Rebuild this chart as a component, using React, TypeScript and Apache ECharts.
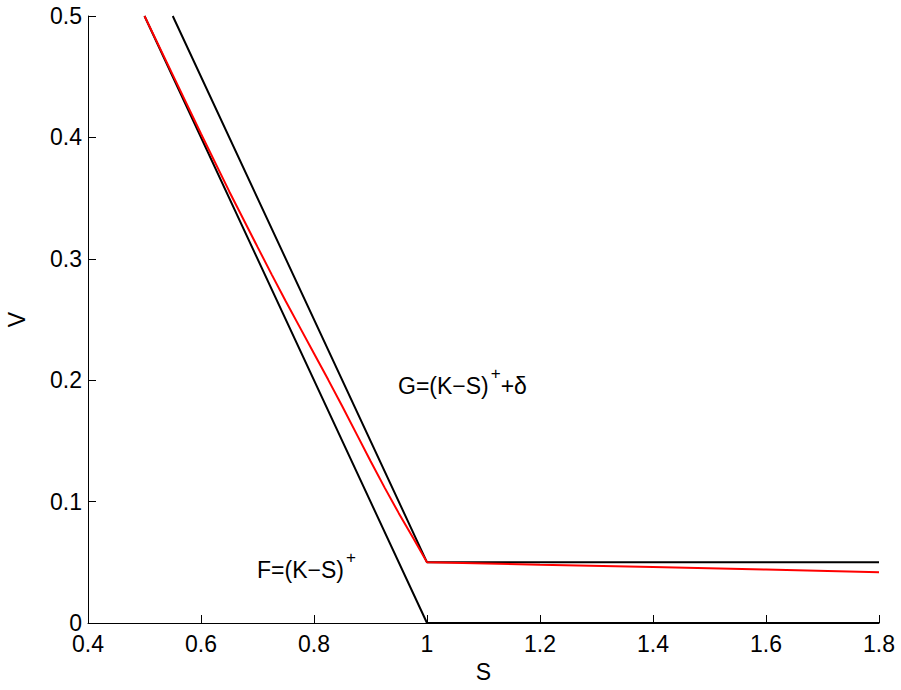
import React, { useEffect, useRef } from "react";
import * as echarts from "echarts";

const fS = [0.5, 1.0, 1.8];
const fV = [0.5, 0.0, 0.0];
const gS = [0.55, 1.0, 1.8];
const gV = [0.5, 0.05, 0.05];
const redS = [0.5, 0.55, 0.6, 0.65, 0.7, 0.725, 0.75, 0.775, 0.8, 0.825, 0.85, 0.875, 0.9, 0.925, 0.95, 0.975, 1.0, 1.2, 1.4, 1.6, 1.8];
const redV = [0.5, 0.4515, 0.403, 0.3555, 0.3098, 0.2872, 0.265, 0.2435, 0.222, 0.2005, 0.1785, 0.156, 0.1335, 0.1115, 0.0905, 0.0705, 0.05, 0.048, 0.0462, 0.044, 0.0418];
const xTicks = [0.4, 0.6, 0.8, 1, 1.2, 1.4, 1.6, 1.8];
const yTicks = [0, 0.1, 0.2, 0.3, 0.4, 0.5];

const FONT = "Liberation Sans, Arial, Helvetica, sans-serif";

const zip = (a: number[], b: number[]) => a.map((v, i) => [v, b[i]]);

export default function App() {
  const ref = useRef<HTMLDivElement>(null);
  useEffect(() => {
    if (!ref.current) return;
    const chart = echarts.init(ref.current, null, { renderer: "svg" });
    const axisCommon = {
      axisLine: { show: true, lineStyle: { color: "#000", width: 1 } },
      axisTick: { show: true, inside: true, length: 8, lineStyle: { color: "#000" } },
      splitLine: { show: false },
      axisLabel: { color: "#000", fontSize: 23, lineHeight: 18, fontFamily: FONT },
      nameTextStyle: { color: "#000", fontSize: 23, fontFamily: FONT },
    };
    const rich = {
      b: { fontSize: 23, fontFamily: FONT, fill: "#000", verticalAlign: "bottom" },
      s: { fontSize: 17, fontFamily: FONT, fill: "#000", padding: [0, 0, 15, 2] },
    };
    chart.setOption({
      animation: false,
      backgroundColor: "#fff",
      grid: { left: 88, right: 22, top: 16, bottom: 67, containLabel: false, outerBoundsMode: "none" },
      xAxis: {
        type: "value",
        min: 0.4,
        max: 1.8,
        interval: 0.2,
        name: "S",
        nameLocation: "middle",
        nameGap: 29,
        ...axisCommon,
        axisLabel: {
          ...axisCommon.axisLabel,
          margin: 12,
          formatter: (v: number) => {
            const t = xTicks.find((x) => Math.abs(x - v) < 1e-6);
            return t === undefined ? "" : String(t);
          },
        },
      },
      yAxis: {
        type: "value",
        min: 0,
        max: 0.5,
        interval: 0.1,
        name: "V",
        nameLocation: "middle",
        nameGap: 60,
        ...axisCommon,
        axisLabel: {
          ...axisCommon.axisLabel,
          margin: 6,
          formatter: (v: number) => {
            const t = yTicks.find((y) => Math.abs(y - v) < 1e-6);
            return t === undefined ? "" : String(t);
          },
        },
      },
      series: [
        {
          type: "line",
          data: zip(fS, fV),
          symbol: "none",
          clip: false,
          lineStyle: { color: "#000", width: 2 },
          z: 3,
        },
        {
          type: "line",
          data: zip(gS, gV),
          symbol: "none",
          lineStyle: { color: "#000", width: 2 },
          z: 3,
        },
        {
          type: "line",
          data: zip(redS, redV),
          symbol: "none",
          lineStyle: { color: "#ff0000", width: 2 },
          z: 4,
        },
      ],
      graphic: [
        {
          type: "text",
          left: 398,
          top: 365,
          style: { text: "{b|G=(K\u2212S)}{s|+}{b|+\u03b4}", rich },
        },
        {
          type: "text",
          left: 257,
          top: 549,
          style: { text: "{b|F=(K\u2212S)}{s|+}", rich },
        },
      ],
    });
    return () => chart.dispose();
  }, []);
  return <div ref={ref} style={{ width: 901, height: 690, position: "absolute", left: 0, top: 0 }} />;
}
